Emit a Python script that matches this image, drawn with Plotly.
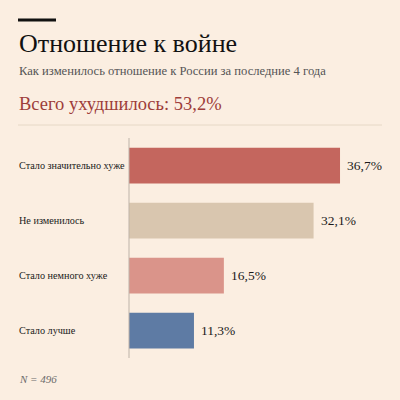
import plotly.graph_objects as go

categories = ['Стало значительно хуже', 'Не изменилось', 'Стало немного хуже', 'Стало лучше']
values = [36.7, 32.1, 16.5, 11.3]
bar_colors = ['#C4665E', '#D9C6AF', '#DA948A', '#5E7BA4']

title = 'Отношение к войне'
subtitle = 'Как изменилось отношение к России за последние 4 года'
total_text = 'Всего ухудшилось: 53,2%'
note = 'N = 496'

W, H = 400, 400
bg = '#FBEEE1'
serif = 'Liberation Serif, Times New Roman, serif'


def px_x(x):
    return x / W


def px_y(y):
    return 1 - y / H


fig = go.Figure(go.Bar(
    x=values,
    y=categories,
    orientation='h',
    marker=dict(color=bar_colors, line=dict(width=0)),
    width=0.65,
    hoverinfo='skip',
))

annotations = [
    dict(text=title, x=px_x(17), y=px_y(44), xanchor='left', yanchor='middle',
         font=dict(family=serif, size=26, color='#111111')),
    dict(text=subtitle, x=px_x(17), y=px_y(71), xanchor='left', yanchor='middle',
         font=dict(family=serif, size=12.6, color='#555555')),
    dict(text=total_text, x=px_x(17), y=px_y(104), xanchor='left', yanchor='middle',
         font=dict(family=serif, size=18.5, color='#9E3D3A')),
    dict(text=note, x=px_x(17), y=px_y(379), xanchor='left', yanchor='middle',
         font=dict(family=serif, size=11, color='#6b6b6b', style='italic')),
]
for cat in categories:
    annotations.append(dict(text=cat, x=px_x(17), y=cat, yref='y', xanchor='left', yanchor='middle',
                            font=dict(family=serif, size=10.2, color='#1a1a1a')))
for cat, v in zip(categories, values):
    annotations.append(dict(text=f'{v:.1f}%'.replace('.', ','), x=v, y=cat, xref='x', yref='y',
                            xanchor='left', yanchor='middle', xshift=5,
                            font=dict(family=serif, size=13.5, color='#1a1a1a')))
for a in annotations:
    a.setdefault('xref', 'paper')
    a.setdefault('yref', 'paper')
    a['showarrow'] = False

shapes = [
    # black accent bar at top
    dict(type='rect', xref='paper', yref='paper', x0=px_x(18), x1=px_x(56), y0=px_y(18.5), y1=px_y(21.5),
         fillcolor='#111111', line=dict(width=0)),
    # separator
    dict(type='line', xref='paper', yref='paper', x0=px_x(18), x1=px_x(382), y0=px_y(125), y1=px_y(125),
         line=dict(color='#E6D8C6', width=1)),
    # vertical axis line
    dict(type='line', xref='paper', yref='paper', x0=px_x(129), x1=px_x(129), y0=px_y(138), y1=px_y(358),
         line=dict(color='#BDB3A8', width=1)),
]

fig.update_layout(
    width=W, height=H,
    margin=dict(l=0, r=0, t=0, b=0),
    paper_bgcolor=bg, plot_bgcolor=bg,
    showlegend=False,
    xaxis=dict(domain=[px_x(129), px_x(382)], range=[0, 44], visible=False, fixedrange=True),
    yaxis=dict(domain=[px_y(358), px_y(138)], categoryorder='array', categoryarray=categories,
               autorange='reversed', showticklabels=False, showgrid=False, zeroline=False, fixedrange=True),
    annotations=annotations,
    shapes=shapes,
)

# drop the default 8px page margin so the figure sits at the window's corner
fig.write_html('out.html', config={'displayModeBar': False, 'staticPlot': True},
               post_script="document.body.style.margin='0';document.body.style.background='%s';" % bg)
